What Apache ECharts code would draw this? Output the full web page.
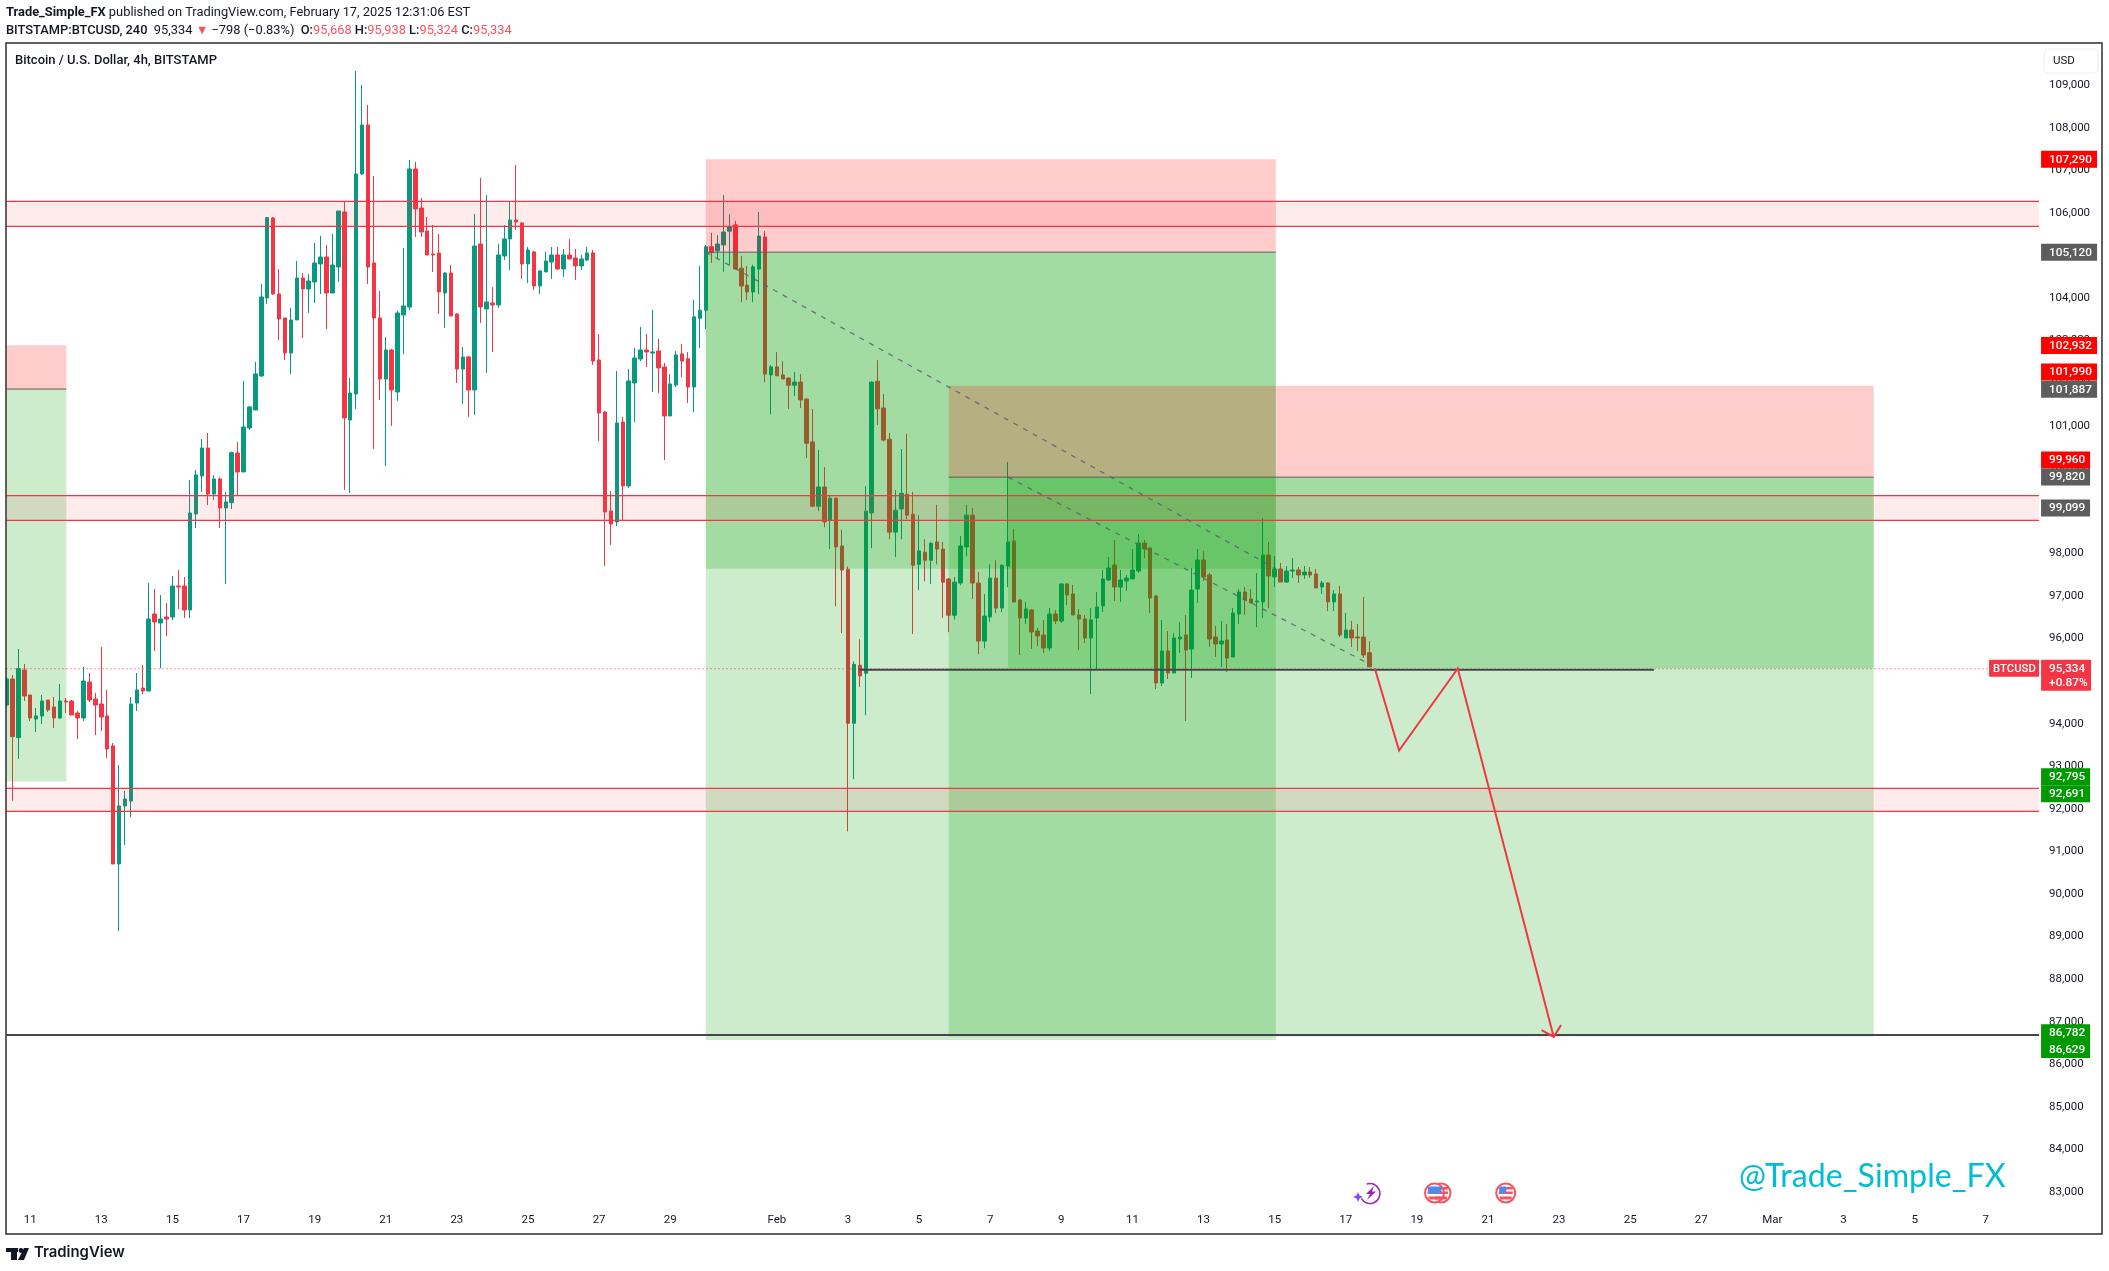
<!DOCTYPE html>
<html><head><meta charset="utf-8">
<script src="https://cdn.jsdelivr.net/npm/echarts@6/dist/echarts.min.js"></script>
<style>html,body{margin:0;padding:0;background:#fff}#c{width:2109px;height:1271px}</style>
</head><body><div id="c"></div>
<script>
const opens=[94438,95049,93671,95260,94673,94109,94180,94555,94391,94133,
94532,94532,94250,94133,94978,94579,94462,94180,93475,90703,
92066,92183,94485,94837,94767,96576,96364,96505,96505,97233,
97233,96670,98925,99818,100475,99395,99747,99066,99191,100358,
99912,100945,101368,102167,103999,105878,104093,103529,102707,103482,
104469,104210,104375,104798,104962,104116,104727,106019,101133,101744,
106912,108063,104821,103529,102096,102777,101791,103600,103788,107029,
106113,105573,105033,105056,104116,104586,103623,102331,102613,101838,
105267,103741,103882,103835,104986,105385,105831,105761,104798,105080,
104281,104610,104845,105009,104680,105009,104939,104751,104892,105056,
102543,101321,98996,98737,101086,99583,102002,102566,102777,102707,
102754,102378,101227,101955,102684,102569,101908,103523,103712,105202,
105107,105244,105569,105716,104698,104300,104142,104677,105432,102191,
102380,102191,102118,101950,102023,101625,100618,99107,99558,98782,
99296,98173,97628,94009,95373,95184,98950,102044,101415,100681,
98499,99044,99390,98918,97743,98027,97838,98268,98100,97397,
96547,97303,98152,98897,97303,95939,96506,97418,96715,97701,
98290,96904,96482,96670,96176,96082,95777,96576,96411,97280,
97045,96552,96458,96012,96482,96764,97374,97727,97210,97351,
97398,97586,98243,98126,96998,94955,95707,95190,95988,96082,
95753,97163,97844,97492,96035,95871,95965,95566,96576,97092,
96928,96858,96858,97962,97445,97633,97327,97586,97609,97492,
97562,97515,97210,97304,96858,97045,96012,96200,96035,96035,
95668];
const closes=[95049,93694,95292,94649,94133,94180,94532,94321,94133,94532,
94509,94203,94133,95002,94555,94438,94156,93404,90703,92066,
92230,94462,94790,94767,96458,96388,96458,96458,97233,97210,
96670,98948,99841,100475,99395,99747,99066,99207,100366,99912,
100969,101439,102214,104022,105886,104093,103506,102707,103482,104469,
104210,104398,104821,104962,104116,104774,106043,101180,101767,106912,
108063,104727,103529,102096,102777,101838,103647,103811,107029,106090,
105549,105009,105009,104140,104586,103576,102331,102613,101838,105220,
103788,103905,103835,105009,105385,105831,105784,104798,105126,104281,
104633,104868,105009,104680,105009,104915,104751,104915,105056,102519,
101298,98972,98690,101063,99583,102049,102590,102777,102731,102731,
102355,101227,101979,102660,102516,101908,103555,103712,105202,105065,
105265,105548,105674,104677,104279,104142,104730,105453,102212,102380,
102170,102097,101950,102023,101604,100586,99107,99558,98740,99296,
98152,97607,94009,95394,95121,98992,102023,101394,100660,98499,
99013,99411,98897,97722,98058,97838,98236,98100,97324,96547,
97324,98173,98897,97303,95939,96526,97418,96715,97722,98268,
96858,96482,96693,96153,96059,95777,96576,96411,97280,97022,
96552,96458,96012,96435,96740,97398,97656,97210,97374,97421,
97609,98243,98102,96951,94955,95707,95190,96012,96035,95730,
97139,97844,97445,95988,95871,95941,95542,96599,97092,96904,
96834,96881,97962,97468,97633,97327,97586,97609,97492,97562,
97492,97186,97304,96858,97045,96082,96200,96012,96012,95613,
95334];
const lows=[94400,92191,93170,94532,94062,93804,93992,94274,93898,94109,
94250,94203,93639,94062,94509,93733,93827,93193,90703,89129,
91149,91807,94297,94696,94767,95707,95299,96059,96435,96693,
96482,96482,98596,99442,99137,99254,98596,97281,99043,99371,
99912,100898,101368,102143,103858,104069,103012,102543,102214,103482,
103059,103647,103882,104093,103271,104116,104375,99489,99418,101392,
106888,104328,100452,101603,100053,100992,101580,102684,103717,105432,
105432,105009,104610,103623,103294,103576,102002,101509,101204,101251,
103412,102237,102731,103764,104892,104657,105596,104445,104351,104187,
104093,104610,104445,104657,104492,104915,104422,104657,104868,102425,
100640,97704,98197,98643,98769,99536,101086,102519,102378,101791,
101767,100194,101227,101908,102139,101530,101320,102820,103272,104824,
104918,104614,104761,104677,103901,103953,103901,104090,102023,101268,
102170,102097,101394,101698,101415,100240,99107,98992,98614,98100,
96757,96128,91470,92698,94859,94198,98121,101016,100628,98331,
97911,98331,98803,96107,97135,97345,97282,97743,96485,96149,
96443,97250,97932,96925,95635,95771,96390,96600,96621,97208,
96858,95613,96341,95753,95824,95660,95707,96341,96364,96787,
96552,95730,95894,94696,95284,96623,97351,96881,96858,97116,
97398,97539,97891,96599,94814,94884,95049,95190,95660,94062,
95072,96834,97351,95800,95566,95331,95213,95566,96341,96552,
96834,96270,96482,96717,97210,97327,97304,97421,97304,97398,
97421,97186,97045,96646,96646,96035,96012,95800,95707,95542,
95324];
const highs=[95100,95143,95753,95401,94673,94368,94673,94555,94626,94931,
94602,94555,94297,95331,95190,94720,95800,94790,93545,93029,
92418,94626,95190,95378,97304,97163,97022,96834,97468,97609,
97445,99723,99958,100687,100828,99841,99786,99442,100389,100616,
102049,101462,102496,104328,105902,105900,104680,103529,103764,104868,
104586,104563,105291,105455,105244,105502,106043,106262,102120,109331,
109002,108533,106865,104163,103083,102801,103700,105173,107241,107194,
106348,105902,105714,105502,104600,104774,103640,102848,102630,105972,
106818,106418,104257,105267,105714,106262,107123,105780,105197,105103,
104650,105080,105197,105197,105150,105385,105150,105009,105197,105126,
103153,101340,99465,102284,101204,102331,102824,103318,103153,103717,
103036,102472,102214,102754,102915,102726,103953,104751,105244,105527,
105474,106419,105967,105810,104981,104751,104782,106020,105569,102422,
102726,102516,102130,102265,102212,101640,101394,100429,100030,99369,
99310,98551,97691,95467,95981,99579,102040,102537,101740,100827,
99485,100450,100806,99443,98897,98331,98268,99138,98268,97420,
97439,98404,99138,99065,97565,97040,97743,97838,97740,100146,
98572,96920,96858,96690,96247,96435,96717,96670,97300,97304,
97257,96693,96552,96717,97092,97609,97915,98314,97609,97492,
98102,98455,98314,98140,97022,96435,96176,96129,96388,96552,
97656,98102,98056,97539,96294,96411,96341,96717,97163,97210,
97163,97539,98831,98267,97938,97774,97703,97891,97680,97703,
97680,97633,97351,97320,97139,97233,96599,96411,96341,96975,
95938];

const slotCount=344, lastSlot=343;
const tickSlots=[4,16,28,40,52,64,76,88,100,112,130,142,154,166,178,190,202,214,226,238,250,262,274,286,298,310,322,334];
const tickLabels=['11','13','15','17','19','21','23','25','27','29','Feb','3','5','7','9','11','13','15','17','19','21','23','25','27','Mar','3','5','7'];

// [first slot, last slot, upper price, lower price]
const stopZones=[[0,10.1,102890,101860],[118,214.2,107260,105075],[159,315.1,101940,99790]];
const targetZones=[[0,10.1,101860,92640],[118,214.2,105075,86570],[118,214.2,105075,97640],[159,315.1,99790,86650],[169,315.1,99790,95300]];
const entryLines=[[0,10.1,101860],[118,214.2,105075],[159,315.1,99790]];
const resistanceBands=[[106270,105683],[99355,98777],[92480,91940]];
const trendA=[[118,105075],[214.2,97640]];
const trendB=[[169,99790],[230,95400]];
const projection=[[230.9,95300],[235,93369],[244.9,95296],[261.1,86640]];
const lastPrice=95290, supportLine=[143.9,278,95267], floorPrice=86686;

const tagLabels=['107,290','105,120','102,932','101,990','101,887','99,960','99,820','99,099','92,795','92,691','86,782','86,629'];
const tagAnchors=[107255,105075,102883,102261,101852,100193,99794,99066,92754,92352,86742,86343];
const tagKinds=['stop','entry','stop','stop','entry','stop','entry','entry','goal','goal','goal','goal'];
const tagFill={stop:'#ff0000',entry:'#5d5d5d',goal:'#009900'};

const FONT='Roboto, "Liberation Sans", sans-serif';
const categories=Array.from({length:slotCount},(_,i)=>String(i));
const candles=opens.map((o,i)=>[o,closes[i],lows[i],highs[i]]);
const tickMap=new Map(tickSlots.map((s,i)=>[s,tickLabels[i]]));

function rectItem(api,r,style){
  const a=api.coord([r[0],r[2]]), b=api.coord([r[1],r[3]]);
  return {type:'rect',shape:{x:a[0],y:a[1],width:b[0]-a[0],height:b[1]-a[1]},style};
}
function hLine(api,x0,x1,price,stroke,lineWidth){
  const a=api.coord([x0,price]),b=api.coord([x1,price]);
  return {type:'line',shape:{x1:a[0],y1:a[1],x2:b[0],y2:b[1]},style:{stroke,lineWidth}};
}
function lineSeries(points,color,width,type,z,opacity){
  return {type:'line',xAxisIndex:1,yAxisIndex:0,data:points,showSymbol:false,symbol:'none',silent:true,z,
    lineStyle:{color,width,type:type||'solid',opacity:opacity==null?1:opacity},animation:false};
}
const rectSeries=(rows,fill,z)=>({type:'custom',xAxisIndex:1,yAxisIndex:0,silent:true,z,data:rows,
  renderItem:(p,api)=>rectItem(api,rows[p.dataIndex],{fill})});

const series=[
  {type:'candlestick',xAxisIndex:0,yAxisIndex:0,data:candles,barWidth:4,z:2,silent:true,
   itemStyle:{color:'#089981',color0:'#f23645',borderColor:'#089981',borderColor0:'#f23645',borderWidth:1,borderColorDoji:'#f23645'}},
  rectSeries(targetZones,'rgba(0,160,0,0.2)',3),
  rectSeries(stopZones,'rgba(255,0,0,0.2)',3),
  {type:'custom',xAxisIndex:1,yAxisIndex:0,silent:true,z:4,data:resistanceBands,
   renderItem:(p,api)=>{const r=resistanceBands[p.dataIndex];
     return {type:'group',children:[
       rectItem(api,[0,lastSlot,r[0],r[1]],{fill:'rgba(242,54,69,0.1)'}),
       hLine(api,0,lastSlot,r[0],'#f23645',1.2),
       hLine(api,0,lastSlot,r[1],'#f23645',1.2)
     ]};}},
  {type:'custom',xAxisIndex:1,yAxisIndex:0,silent:true,z:4,data:entryLines,
   renderItem:(p,api)=>{const r=entryLines[p.dataIndex];return hLine(api,r[0],r[1],r[2],'#5d5d5d',1);}},
  lineSeries(trendA,'#5d606b',1.3,[5,6],5,0.85),
  lineSeries(trendB,'#5d606b',1.3,[5,6],5,0.85),
  lineSeries([[0,lastPrice],[334.7,lastPrice]],'#f23645',1,[1,3],6),
  lineSeries([[supportLine[0],supportLine[2]],[supportLine[1],supportLine[2]]],'#434651',2,'solid',6),
  lineSeries([[0,floorPrice],[lastSlot,floorPrice]],'#434651',2,'solid',6),
  {type:'custom',xAxisIndex:1,yAxisIndex:0,silent:true,z:7,data:[0],
   renderItem:(p,api)=>{
     const pts=projection.map(q=>api.coord(q));
     const n=pts.length, e=pts[n-1], s=pts[n-2];
     const ang=Math.atan2(e[1]-s[1],e[0]-s[0]), L=14, sp=0.8;
     const h1=[e[0]-L*Math.cos(ang-sp),e[1]-L*Math.sin(ang-sp)], h2=[e[0]-L*Math.cos(ang+sp),e[1]-L*Math.sin(ang+sp)];
     return {type:'group',children:[
       {type:'polyline',shape:{points:pts},style:{fill:null,stroke:'#f23645',lineWidth:2}},
       {type:'polyline',shape:{points:[h1,e,h2]},style:{fill:null,stroke:'#f23645',lineWidth:2}}
     ]};}},
  {type:'custom',xAxisIndex:1,yAxisIndex:0,silent:true,z:20,clip:false,data:tagLabels,
   renderItem:(p,api)=>{
     const i=p.dataIndex,lab=tagLabels[i],pos=api.coord([lastSlot,tagAnchors[i]]);
     const w=lab.length>6?56:49;
     return {type:'group',children:[
       {type:'rect',shape:{x:pos[0]+2,y:pos[1]-8.5,width:w,height:17},style:{fill:tagFill[tagKinds[i]]}},
       {type:'text',style:{x:pos[0]+10,y:pos[1]+0.5,text:lab,fill:'#fff',font:'500 11.8px '+FONT,textVerticalAlign:'middle'}}
     ]};}},
  {type:'custom',xAxisIndex:1,yAxisIndex:0,silent:true,z:20,clip:false,data:[0],
   renderItem:(p,api)=>{
     const pos=api.coord([lastSlot,lastPrice]);
     return {type:'group',children:[
       {type:'rect',shape:{x:pos[0]+2,y:pos[1]-9,width:50,height:31,r:1},style:{fill:'#f23645'}},
       {type:'text',style:{x:pos[0]+10,y:pos[1]+0.5,text:'95,334',fill:'#fff',font:'500 11.8px '+FONT,textVerticalAlign:'middle'}},
       {type:'text',style:{x:pos[0]+10,y:pos[1]+14.5,text:'+0.87%',fill:'#fff',font:'500 11.8px '+FONT,textVerticalAlign:'middle'}},
       {type:'rect',shape:{x:pos[0]-50,y:pos[1]-9,width:50,height:17,r:1},style:{fill:'#f23645'}},
       {type:'text',style:{x:pos[0]-46,y:pos[1]+0.5,text:'BTCUSD',fill:'#fff',font:'500 11.3px '+FONT,textVerticalAlign:'middle'}}
     ]};}}
];

const flag=(cx)=>[
  {type:'circle',shape:{cx,cy:1193,r:9.5},style:{fill:'#fff',stroke:'#f7525f',lineWidth:2},z:30},
  {type:'rect',shape:{x:cx-6,y:1187,width:13,height:2.5},style:{fill:'#f7525f'},z:31},
  {type:'rect',shape:{x:cx-7,y:1191.5,width:14,height:2.5},style:{fill:'#f7525f'},z:31},
  {type:'rect',shape:{x:cx-6.5,y:1186.5,width:7,height:7},style:{fill:'#4a8df0'},z:32},
  {type:'rect',shape:{x:cx-6,y:1196.5,width:12,height:3},style:{fill:'#f7525f'},z:32}
];
const graphic=[
  {type:'rect',shape:{x:0,y:43,width:6,height:1191},style:{fill:'#fff'},z:90},
  {type:'rect',shape:{x:6,y:43,width:2096,height:1191},style:{fill:null,stroke:'#2e2e2e',lineWidth:1.5},z:100,silent:true},
  {type:'text',x:6,y:6,z:101,style:{text:'{b|Trade_Simple_FX} published on TradingView.com, February 17, 2025 12:31:06 EST',
    font:'12.85px '+FONT,fill:'#131722',rich:{b:{font:'700 12.85px '+FONT,fill:'#131722'}}}},
  {type:'text',x:6,y:24,z:101,style:{text:'{b|BITSTAMP:BTCUSD, 240}  95,334 {r|▼} −798 (−0.83%)  {b|O:}{r|95,668} {b|H:}{r|95,938} {b|L:}{r|95,324} {b|C:}{r|95,334}',
    font:'12.85px '+FONT,fill:'#131722',rich:{b:{font:'500 12.85px '+FONT,fill:'#131722'},r:{font:'12.85px '+FONT,fill:'#f7525f'}}}},
  {type:'text',x:15,y:54,z:101,style:{text:'Bitcoin / U.S. Dollar, 4h, BITSTAMP',font:'500 13px '+FONT,fill:'#131722'}},
  {type:'rect',shape:{x:2044,y:49,width:54,height:24,r:4},style:{fill:'#fff',stroke:'#eceef2',lineWidth:1},z:30},
  {type:'text',x:2053,y:55,z:31,style:{text:'USD',font:'11.5px '+FONT,fill:'#131722'}},
  {type:'text',x:1739,y:1161,z:40,style:{text:'@Trade_Simple_FX',font:'32.2px Lato, sans-serif',fill:'#00bcd4'}},
  {type:'arc',shape:{cx:1370,cy:1193.5,r:10,startAngle:-1.9,endAngle:2.6},style:{fill:null,stroke:'#9c27b0',lineWidth:1.6},z:30},
  {type:'polygon',shape:{points:[[1374,1186],[1366,1194],[1370,1194],[1367,1200],[1376,1191.5],[1372,1191.5]]},style:{fill:'#9c27b0'},z:31},
  {type:'polygon',shape:{points:[[1358,1192],[1359.5,1195.5],[1363,1197],[1359.5,1198.5],[1358,1202],[1356.5,1198.5],[1353,1197],[1356.5,1195.5]]},style:{fill:'#7c4dff'},z:31},
  ...flag(1441),...flag(1434.5),...flag(1505.7),
  {type:'rect',shape:{x:6,y:1248,width:12,height:4},style:{fill:'#131722'},z:40},
  {type:'rect',shape:{x:11,y:1248,width:6,height:12},style:{fill:'#131722'},z:40},
  {type:'circle',shape:{cx:21,cy:1250.5,r:2.4},style:{fill:'#131722'},z:40},
  {type:'polygon',shape:{points:[[24,1248],[29,1248],[24,1260],[18,1260]]},style:{fill:'#131722'},z:40},
  {type:'text',x:34,y:1245.5,z:40,style:{text:'TradingView',font:'600 14.9px Inter, '+FONT,fill:'#131722'}}
];

const chart=echarts.init(document.getElementById('c'),null,{renderer:'canvas'});
chart.setOption({
  animation:false,backgroundColor:'#fff',
  grid:{left:3.54,top:42.5,width:2038.5,height:1192,containLabel:false},
  xAxis:[
   {type:'category',data:categories,boundaryGap:true,axisLine:{show:false},axisTick:{show:false},splitLine:{show:false},
    axisLabel:{inside:true,margin:8,color:'#131722',fontFamily:FONT,fontSize:11.5,hideOverlap:false,
      interval:(i)=>tickMap.has(i),formatter:(v)=>tickMap.get(+v)||''}},
   {type:'value',min:-0.5,max:343.5,show:false}
  ],
  yAxis:[{type:'value',position:'right',min:82000,max:110000,interval:1000,scale:true,
    axisLine:{show:false},axisTick:{show:false},splitLine:{show:false},
    axisLabel:{margin:7,align:'left',color:'#131722',fontFamily:FONT,fontSize:11.5,padding:[4,0,0,0],
      formatter:(v)=>(v===82000||v===110000)?'':v.toLocaleString('en-US')}}],
  series,graphic
});
</script></body></html>
